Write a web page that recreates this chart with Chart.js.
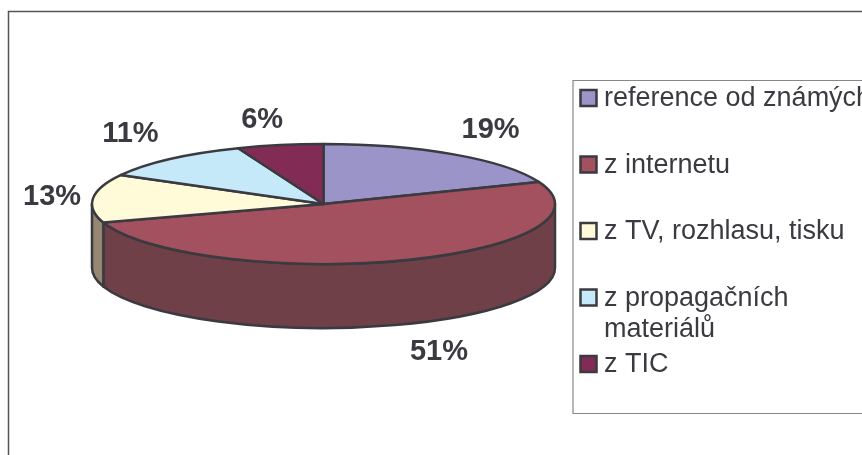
<!DOCTYPE html>
<html>
<head>
<meta charset="utf-8">
<title>Pie chart</title>
<script src="https://cdn.jsdelivr.net/npm/chart.js@4"></script>
<style>
  html, body { margin: 0; padding: 0; background: #fff; overflow: hidden; }
  canvas { display: block; }
</style>
</head>
<body>
<canvas id="chart" width="862" height="455"></canvas>
<script>
// Data
const categories = ['reference od známých', 'z internetu', 'z TV, rozhlasu, tisku', ['z propagačních', 'materiálů'], 'z TIC'];
const shares = [19, 51, 13, 11, 6];

// Slice colours: top face and side wall
const topColors = ['#9b94c8', '#a3505f', '#fffad8', '#c6e9fa', '#822c55'];
const wallColors = ['#655f85', '#6f4047', '#968672', '#7f97a3', '#551c38'];

// Label offset from the rim middle of each slice
const labelOffsets = [[37, -24], [37, 92], [-41, -1], [-40, -25], [-18, -25]];

const INK = '#3a3a40';
const FONT = '"Liberation Sans", Arial, sans-serif';

// Flattened 3D look
const RX = 231.5;
const RY = 60;
const DEPTH = 64;

function slicePath(ctx, x, y, start, end) {
  ctx.beginPath();
  ctx.moveTo(x, y);
  ctx.ellipse(x, y, RX, RY, 0, start, end);
  ctx.closePath();
}

function wallPath(ctx, x, y, start, end) {
  ctx.beginPath();
  ctx.ellipse(x, y, RX, RY, 0, start, end);
  ctx.ellipse(x, y + DEPTH, RX, RY, 0, end, start, true);
  ctx.closePath();
}

const pie3d = {
  id: 'pie3d',
  // The arcs are drawn here instead, squashed to an ellipse with a wall below
  beforeDatasetsDraw(chart) {
    const ctx = chart.ctx;
    const arcs = chart.getDatasetMeta(0).data;
    ctx.save();
    ctx.lineWidth = 2.5;
    ctx.lineJoin = 'round';
    ctx.strokeStyle = INK;

    arcs.forEach((arc, i) => {
      const from = Math.max(arc.startAngle, 0);
      const to = Math.min(arc.endAngle, Math.PI);
      if (to <= from) return;
      wallPath(ctx, arc.x, arc.y, from, to);
      ctx.fillStyle = wallColors[i];
      ctx.fill();
      ctx.stroke();
    });

    arcs.forEach((arc, i) => {
      slicePath(ctx, arc.x, arc.y, arc.startAngle, arc.endAngle);
      ctx.fillStyle = topColors[i];
      ctx.fill();
      ctx.stroke();
    });
    ctx.restore();
    return false;
  },
  afterDraw(chart) {
    const ctx = chart.ctx;
    const arcs = chart.getDatasetMeta(0).data;
    const W = chart.width;
    const H = chart.height;
    ctx.save();

    // Percent labels
    ctx.fillStyle = INK;
    ctx.font = 'bold 29px ' + FONT;
    ctx.textAlign = 'center';
    ctx.textBaseline = 'middle';
    arcs.forEach((arc, i) => {
      const mid = (arc.startAngle + arc.endAngle) / 2;
      const px = arc.x + Math.cos(mid) * RX + labelOffsets[i][0];
      const py = arc.y + Math.sin(mid) * RY + labelOffsets[i][1];
      ctx.fillText(shares[i] + '%', px, py);
    });

    // Outer frame, cut off by the right and bottom edges
    ctx.strokeStyle = '#555';
    ctx.lineWidth = 1.5;
    ctx.beginPath();
    ctx.moveTo(8.5, H);
    ctx.lineTo(8.5, 11.5);
    ctx.lineTo(W, 11.5);
    ctx.stroke();

    // Legend box, also cut off on the right
    const boxX = 573;
    const boxTop = 80.5;
    const boxBottom = 413.5;
    ctx.strokeStyle = '#888';
    ctx.lineWidth = 1.2;
    ctx.beginPath();
    ctx.moveTo(W, boxTop);
    ctx.lineTo(boxX, boxTop);
    ctx.lineTo(boxX, boxBottom);
    ctx.lineTo(W, boxBottom);
    ctx.stroke();

    // Legend rows
    ctx.font = '27px ' + FONT;
    ctx.textAlign = 'left';
    chart.data.labels.forEach((label, i) => {
      const y = 98 + i * 66.5;
      ctx.fillStyle = topColors[i];
      ctx.strokeStyle = INK;
      ctx.lineWidth = 2.5;
      ctx.fillRect(580.5, y - 8, 16, 16);
      ctx.strokeRect(580.5, y - 8, 16, 16);
      ctx.fillStyle = INK;
      [].concat(label).forEach((line, n) => {
        ctx.fillText(line, 604, y + 1 + n * 31);
      });
    });
    ctx.restore();
  }
};

new Chart(document.getElementById('chart'), {
  type: 'pie',
  data: {
    labels: categories,
    datasets: [{ data: shares, backgroundColor: topColors, borderColor: INK, borderWidth: 2 }],
  },
  options: {
    responsive: false,
    animation: false,
    events: [],
    layout: { padding: { left: 0, right: 215, top: 0, bottom: 47 } },
    plugins: { legend: { display: false }, tooltip: { enabled: false } },
  },
  plugins: [pie3d],
});
</script>
</body>
</html>
